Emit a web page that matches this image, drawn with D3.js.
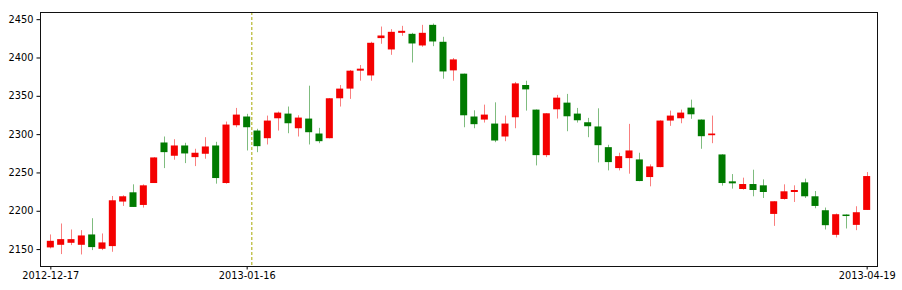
<!DOCTYPE html>
<html><head><meta charset="utf-8">
<script src="https://cdn.jsdelivr.net/npm/d3@7"></script>
<style>html,body{margin:0;padding:0;background:#fff;}svg{display:block;}</style>
</head><body>
<svg id="chart" width="902" height="290"></svg>
<script>
const opens = [2152.2,2155.6,2158.2,2155.6,2169.1,2150.4,2153.9,2212.0,2224.1,2207.6,
2236.2,2289.1,2271.8,2285.2,2270.0,2274.4,2285.2,2236.2,2311.6,2323.0,
2304.7,2294.7,2320.7,2326.8,2307.7,2320.3,2300.8,2294.7,2346.8,2359.4,
2382.8,2376.6,2425.3,2410.5,2432.2,2430.9,2415.7,2442.6,2420.5,2383.2,
2378.9,2323.0,2319.0,2313.8,2296.9,2322.0,2364.1,2332.0,2272.6,2332.4,
2341.1,2326.8,2315.5,2310.0,2283.0,2255.7,2268.7,2267.0,2244.0,2257.0,
2317.7,2320.7,2334.6,2319.0,2298.6,2273.5,2238.4,2228.4,2234.9,2233.2,
2195.9,2215.4,2224.5,2237.1,2218.9,2200.7,2168.6,2195.1,2181.6,2201.1];
const closes = [2160.8,2163.0,2163.0,2167.8,2152.6,2158.7,2213.7,2218.9,2205.0,2233.2,
2269.6,2276.5,2285.2,2274.8,2275.7,2283.9,2242.7,2312.5,2325.5,2309.0,
2284.3,2317.7,2328.1,2314.2,2321.6,2302.5,2290.8,2346.8,2359.4,2382.8,
2385.4,2419.2,2428.7,2433.5,2434.8,2418.3,2432.2,2420.9,2381.8,2397.5,
2324.6,2313.0,2325.5,2291.7,2313.8,2366.2,2358.4,2272.6,2327.2,2347.6,
2323.3,2318.1,2310.3,2285.6,2263.5,2271.3,2278.7,2238.8,2257.9,2317.7,
2324.2,2328.1,2325.9,2297.3,2300.8,2236.2,2235.8,2234.9,2227.1,2224.5,
2212.4,2225.4,2227.1,2218.9,2206.3,2181.2,2195.5,2193.3,2198.1,2245.3];
const highs = [2169.1,2183.4,2175.6,2174.7,2190.3,2170.4,2219.3,2220.2,2234.5,2234.5,
2270.0,2296.9,2293.4,2288.7,2280.9,2296.0,2290.0,2316.4,2334.2,2326.5,
2307.0,2324.2,2329.4,2336.0,2324.6,2363.2,2308.2,2347.0,2364.1,2383.7,
2390.2,2420.5,2440.4,2437.0,2441.3,2432.2,2442.6,2444.3,2427.0,2399.3,
2379.0,2331.1,2338.5,2341.5,2324.2,2368.1,2369.7,2332.2,2327.4,2351.2,
2352.5,2334.2,2321.2,2333.7,2286.1,2275.7,2313.4,2275.7,2260.5,2318.0,
2330.7,2332.0,2345.0,2319.2,2324.2,2273.7,2247.9,2243.2,2253.6,2241.0,
2212.6,2234.5,2233.2,2241.9,2225.8,2204.2,2196.4,2195.3,2205.9,2250.5];
const lows = [2150.9,2143.5,2155.2,2143.0,2148.7,2148.7,2146.5,2206.3,2205.0,2204.2,
2236.2,2255.7,2266.6,2262.2,2258.3,2267.9,2235.4,2235.4,2309.0,2278.7,
2276.5,2286.5,2304.7,2301.2,2296.9,2286.5,2288.2,2294.5,2336.0,2346.0,
2369.7,2369.7,2417.9,2403.5,2428.3,2393.5,2414.0,2414.8,2372.3,2369.7,
2309.0,2307.7,2315.1,2289.5,2290.8,2307.7,2330.7,2259.2,2270.0,2320.3,
2303.8,2315.1,2296.0,2263.1,2252.7,2252.7,2248.4,2238.6,2231.9,2256.8,
2310.8,2314.2,2320.0,2280.9,2288.2,2232.8,2228.9,2227.6,2218.9,2216.7,
2180.3,2214.6,2211.5,2216.7,2203.3,2175.6,2165.2,2176.9,2174.7,2201.0];
const tickIndex = [0, 19, 79];
const tickLabels = ["2012-12-17", "2013-01-16", "2013-04-19"];
const yTicks = [2150, 2200, 2250, 2300, 2350, 2400, 2450];
const markerIndex = 19.5;

const L = 40, R = 877, T = 12, B = 266;
const svg = d3.select("#chart");
const n = opens.length;
const x = d3.scaleLinear().domain([-1, n]).range([L, R]);
const lo = d3.min(lows), hi = d3.max(highs), pad = (hi - lo) * 0.05;
const y = d3.scaleLinear().domain([lo - pad, hi + pad]).range([B, T]);

const data = d3.range(n).map(i => ({i, o: opens[i], c: closes[i], h: highs[i], l: lows[i]}));
const RED = "#f40000", GREEN = "#007a00";
const bw = (x(1) - x(0)) * 0.68;

const g = svg.append("g");
g.selectAll("line.wick").data(data).join("line")
  .attr("x1", d => Math.round(x(d.i)) + 0.5).attr("x2", d => Math.round(x(d.i)) + 0.5)
  .attr("y1", d => y(d.h)).attr("y2", d => y(d.l))
  .attr("stroke", d => d.c >= d.o ? RED : GREEN).attr("stroke-opacity", 0.5).attr("stroke-width", 1);
g.selectAll("rect.body").data(data).join("rect")
  .attr("x", d => x(d.i) - bw / 2).attr("width", bw)
  .attr("y", d => y(Math.max(d.o, d.c)))
  .attr("height", d => Math.max(1.5, Math.abs(y(d.o) - y(d.c))))
  .attr("fill", d => d.c >= d.o ? RED : GREEN);

svg.append("line")
  .attr("x1", x(markerIndex)).attr("x2", x(markerIndex)).attr("y1", T).attr("y2", B)
  .attr("stroke", "#a8a800").attr("stroke-width", 1).attr("stroke-dasharray", "3,2");

const yAxis = d3.axisLeft(y).tickValues(yTicks).tickSize(3.5).tickPadding(3).tickFormat(d3.format("d"));
const ya = svg.append("g").attr("transform", `translate(${L},0)`).call(yAxis);
const xAxis = d3.axisBottom(x).tickValues(tickIndex).tickSize(3.5).tickPadding(3)
  .tickFormat((d, k) => tickLabels[k]);
const xa = svg.append("g").attr("transform", `translate(0,${B})`).call(xAxis);
[ya, xa].forEach(a => {
  a.select(".domain").remove();
  a.selectAll("text").attr("font-family", "DejaVu Sans").attr("font-size", "9.8px").attr("fill", "#000");
  a.selectAll("line").attr("stroke", "#000");
});
svg.append("rect").attr("x", L + 0.5).attr("y", T + 0.5).attr("width", R - L).attr("height", B - T)
  .attr("fill", "none").attr("stroke", "#111").attr("stroke-width", 1);
</script>
</body></html>
